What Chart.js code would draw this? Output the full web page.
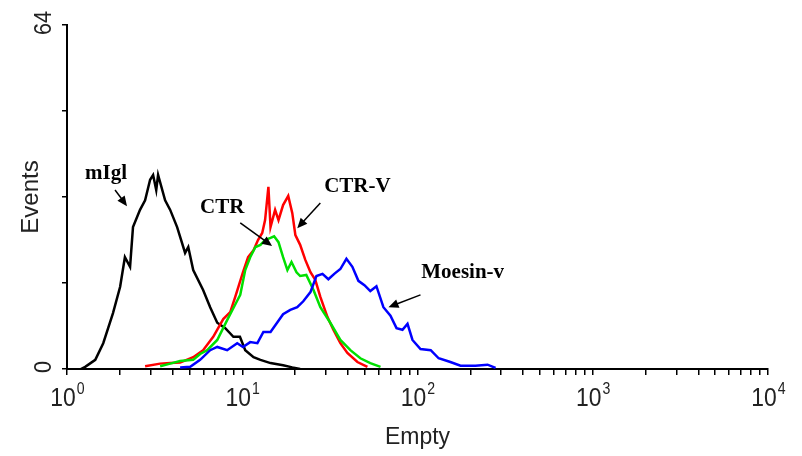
<!DOCTYPE html>
<html lang="en">
<head>
    <meta charset="UTF-8">
    <title>Events</title>
    <script src="https://cdn.jsdelivr.net/npm/chart.js"></script>
    <style>
        body { margin: 0; background: #fff; }
    </style>
</head>
<body>
    <canvas id="histChart" width="802" height="456"></canvas>
    <script>
        // histogram traces (x = channel, y = events)
        var mIglX = [1.2, 1.27, 1.45, 1.61, 1.83, 2.01, 2.14, 2.29, 2.38, 2.61, 2.79, 2.98, 3.10, 3.23, 3.31, 3.63, 3.88, 4.25, 4.72, 4.92, 5.25, 5.98, 6.56, 7.2, 8.0, 8.9, 9.7, 10.4, 11.6, 12.7, 14.5, 17.1, 19.3, 21.4];
        var mIglY = [0, 0.4, 1.7, 4.8, 10.4, 15.3, 20.8, 19.0, 26.4, 29.6, 31.4, 35.2, 36.1, 33.3, 36.1, 31.4, 29.6, 26.4, 21.6, 22.7, 18.4, 14.7, 11.5, 8.6, 7.6, 6.0, 6.0, 3.5, 2.2, 1.7, 1.1, 0.7, 0.3, 0];

        var ctrvX = [2.79, 3.4, 3.88, 4.42, 5.25, 5.98, 6.83, 7.79, 8.54, 9.12, 10.1, 10.8, 11.6, 12.3, 13.0, 13.5, 14.1, 14.5, 15.4, 16.1, 17.1, 18.3, 19.3, 20.1, 21.4, 22.9, 24.5, 26.1, 27.9, 30.6, 33.1, 36.3, 39.8, 45.4, 51.8];
        var ctrvY = [0.5, 1.0, 1.1, 1.2, 2.2, 3.5, 6.0, 9.3, 10.6, 13.4, 18.0, 20.8, 22.1, 24.0, 25.3, 27.7, 33.9, 26.4, 29.6, 27.7, 30.5, 32.2, 29.0, 24.9, 23.1, 20.3, 18.0, 16.6, 13.4, 9.7, 7.3, 4.8, 3.0, 1.3, 0.4];

        var ctrX = [3.4, 3.88, 4.42, 5.25, 5.75, 6.31, 7.2, 8.2, 9.12, 9.74, 10.4, 11.1, 11.9, 12.7, 13.5, 14.5, 15.2, 16.1, 17.1, 18.1, 19.1, 20.4, 21.4, 23.2, 25.5, 27.9, 31.8, 36.3, 41.4, 47.2, 53.8, 61.5];
        var ctrY = [0.5, 1.0, 1.5, 1.7, 2.8, 3.5, 5.4, 9.1, 12.0, 13.8, 18.4, 20.8, 22.7, 23.1, 24.0, 24.4, 24.7, 23.6, 20.8, 18.4, 19.9, 18.0, 17.3, 17.5, 14.7, 11.5, 8.6, 5.4, 3.5, 2.0, 1.1, 0.4];

        var moesinX = [4.42, 5.05, 5.75, 6.56, 7.2, 8.2, 9.36, 10.1, 11.1, 12.2, 13.2, 14.5, 15.8, 17.1, 18.8, 20.6, 22.3, 24.5, 26.5, 28.7, 31.0, 33.5, 36.3, 39.3, 42.5, 46.0, 49.8, 53.8, 58.3, 63.9, 70.1, 75.9, 82.1, 87.7, 93.6, 104, 119, 132, 154, 176, 214, 251, 279];
        var moesinY = [0.3, 0.4, 1.7, 3.5, 4.1, 3.5, 4.8, 4.1, 5.0, 4.8, 6.9, 6.9, 8.6, 10.2, 11.0, 11.5, 12.6, 14.3, 17.3, 17.7, 16.7, 17.7, 18.6, 20.5, 19.0, 16.4, 15.6, 14.5, 15.4, 11.5, 9.9, 7.6, 7.3, 8.4, 5.4, 3.7, 3.5, 2.0, 1.3, 0.6, 0.6, 0.8, 0.2];

        // decade labels: base "10" with exponent
        var xTickValues = [1, 10, 100, 1000, 10000];
        var xTickExps = ['0', '1', '2', '3', '4'];
        var yTickValues = [0, 64];

        // curve labels and arrows, in data units
        var noteText = ['mIgl', 'CTR', 'CTR-V', 'Moesin-v'];
        var noteX = [1.67, 7.69, 45.4, 181];
        var noteY = [36.3, 30.1, 33.9, 17.9];
        var arrowFromX = [1.88, 9.74, 27.9, 104];
        var arrowFromY = [33.3, 27.2, 30.9, 13.8];
        var arrowToX = [2.20, 14.8, 20.6, 68.3];
        var arrowToY = [30.3, 22.9, 26.2, 11.5];

        function toPoints(xs, ys) {
            return xs.map(function (x, i) { return { x: x, y: ys[i] }; });
        }

        var sans = '"Liberation Sans", Arial, sans-serif';

        var notesPlugin = {
            id: 'notes',
            afterDraw: function (chart) {
                var ctx = chart.ctx;
                var xs = chart.scales.x, ys = chart.scales.y;
                ctx.save();
                ctx.fillStyle = '#222';

                // rotated y tick labels
                ctx.font = '24px ' + sans;
                ctx.textAlign = 'center';
                ctx.textBaseline = 'middle';
                yTickValues.forEach(function (v) {
                    ctx.save();
                    ctx.translate(44, ys.getPixelForValue(v) - 2);
                    ctx.rotate(-Math.PI / 2);
                    ctx.scale(0.9, 1);
                    ctx.fillText(String(v), 0, 0);
                    ctx.restore();
                });

                // x decade labels with raised exponent
                ctx.textAlign = 'left';
                ctx.textBaseline = 'alphabetic';
                xTickValues.forEach(function (v, i) {
                    var px = xs.getPixelForValue(v);
                    ctx.font = '26px ' + sans;
                    var wb = ctx.measureText('10').width * 0.88;
                    ctx.font = '16px ' + sans;
                    var we = ctx.measureText(xTickExps[i]).width * 0.88;
                    ctx.save();
                    ctx.translate(px - (wb + we) / 2, 0);
                    ctx.scale(0.88, 1);
                    ctx.font = '26px ' + sans;
                    ctx.fillText('10', 0, 406);
                    ctx.font = '16px ' + sans;
                    ctx.fillText(xTickExps[i], wb / 0.88 + 1, 394);
                    ctx.restore();
                });

                // curve labels with arrows
                ctx.fillStyle = '#000';
                ctx.strokeStyle = '#000';
                ctx.textAlign = 'center';
                ctx.textBaseline = 'middle';
                ctx.font = 'bold 21px "Liberation Serif", "Times New Roman", serif';
                noteText.forEach(function (t, i) {
                    ctx.fillText(t, xs.getPixelForValue(noteX[i]), ys.getPixelForValue(noteY[i]));
                    var x1 = xs.getPixelForValue(arrowFromX[i]), y1 = ys.getPixelForValue(arrowFromY[i]);
                    var x2 = xs.getPixelForValue(arrowToX[i]), y2 = ys.getPixelForValue(arrowToY[i]);
                    var a = Math.atan2(y2 - y1, x2 - x1);
                    ctx.lineWidth = 1.5;
                    ctx.beginPath();
                    ctx.moveTo(x1, y1);
                    ctx.lineTo(x2 - 6 * Math.cos(a), y2 - 6 * Math.sin(a));
                    ctx.stroke();
                    ctx.beginPath();
                    ctx.moveTo(x2, y2);
                    ctx.lineTo(x2 - 10 * Math.cos(a) + 4.5 * Math.sin(a), y2 - 10 * Math.sin(a) - 4.5 * Math.cos(a));
                    ctx.lineTo(x2 - 10 * Math.cos(a) - 4.5 * Math.sin(a), y2 - 10 * Math.sin(a) + 4.5 * Math.cos(a));
                    ctx.closePath();
                    ctx.fill();
                });
                ctx.restore();
            }
        };

        function line(label, xs, ys, color, order) {
            return {
                label: label,
                data: toPoints(xs, ys),
                borderColor: color,
                backgroundColor: color,
                borderWidth: 2.5,
                pointRadius: 0,
                tension: 0,
                fill: false,
                order: order
            };
        }

        var ctx = document.getElementById('histChart').getContext('2d');
        var histChart = new Chart(ctx, {
            type: 'line',
            data: {
                datasets: [
                    line('mIgl', mIglX, mIglY, '#000000', 4),
                    line('CTR-V', ctrvX, ctrvY, '#ff0000', 3),
                    line('CTR', ctrX, ctrY, '#00e000', 2),
                    line('Moesin-v', moesinX, moesinY, '#0000ff', 1)
                ]
            },
            options: {
                responsive: false,
                animation: false,
                layout: { padding: { top: 25, right: 34, left: 0, bottom: 0 } },
                plugins: { legend: { display: false }, tooltip: { enabled: false } },
                scales: {
                    x: {
                        type: 'logarithmic',
                        min: 1,
                        max: 10000,
                        afterBuildTicks: function (scale) {
                            var t = [];
                            for (var d = 1; d < 10000; d *= 10) {
                                for (var k = 1; k < 10; k++) t.push({ value: d * k });
                            }
                            t.push({ value: 10000 });
                            scale.ticks = t;
                        },
                        afterFit: function (scale) { scale.height = 87; },
                        ticks: {
                            autoSkip: false,
                            maxRotation: 0,
                            minRotation: 0,
                            callback: function () { return ''; }
                        },
                        grid: { drawOnChartArea: false, drawTicks: true, tickLength: 6, color: '#000', lineWidth: 1.5 },
                        border: { color: '#000', width: 2 },
                        title: {
                            display: true,
                            text: 'Empty',
                            color: '#222',
                            font: { family: sans, size: 23 },
                            padding: { top: 0, bottom: 5 }
                        }
                    },
                    y: {
                        min: 0,
                        max: 64,
                        afterFit: function (scale) { scale.width = 67; },
                        ticks: { stepSize: 16, display: false },
                        grid: { drawOnChartArea: false, drawTicks: true, tickLength: 5, color: '#000', lineWidth: 1.5 },
                        border: { color: '#000', width: 2 },
                        title: {
                            display: true,
                            text: 'Events',
                            color: '#222',
                            font: { family: sans, size: 24 },
                            padding: { top: 17, bottom: 0 }
                        }
                    }
                }
            },
            plugins: [notesPlugin]
        });
    </script>
</body>
</html>
